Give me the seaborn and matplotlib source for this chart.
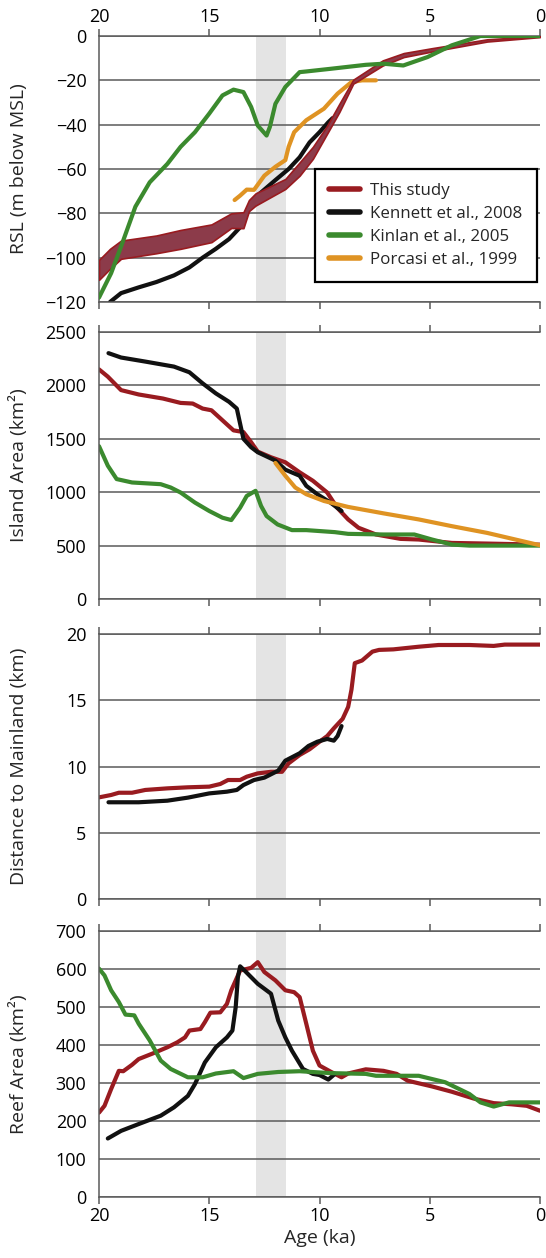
import matplotlib
matplotlib.use('Agg')
import matplotlib.pyplot as plt
from matplotlib.lines import Line2D
import seaborn as sns

# --- DATA ---
# Panel 1: relative sea level (m below MSL)
rsl_this_age = [20.0, 19.5, 19.0, 17.4, 16.3, 14.9, 14.0, 13.45, 13.2, 12.9, 11.55, 10.9,
                10.3, 9.65, 9.1, 8.47, 7.13, 6.18, 4.9, 2.4, 0.0]
rsl_this_upper = [-101, -96, -92.3, -90, -87.5, -85, -80, -79.5, -74, -71, -64.5, -57,
                  -50, -40.4, -30.6, -19.7, -11, -7.7, -5.5, -1.5, 0]
rsl_this_lower = [-110, -105, -100.5, -98, -96, -93, -86.6, -86.7, -79, -76.5, -69, -63,
                  -55.4, -44, -34.3, -21.5, -13.3, -9.5, -7, -2.5, -0.5]

rsl_kennett_age = [19.5, 19.0, 18.2, 17.4, 16.6, 15.9, 15.3, 14.7, 14.1, 13.6, 13.4, 12.9,
                   12.0, 11.4, 10.9, 10.45, 10.0, 9.6, 9.4]
rsl_kennett = [-120, -116, -113.4, -111, -108, -104.4, -100, -96, -91.6, -86.3, -81.8, -72.7,
               -65, -60, -54.7, -48, -43.4, -38.9, -37]

rsl_kinlan_age = [20, 19.45, 19.0, 18.35, 17.7, 16.9, 16.3, 15.65, 15.0, 14.4, 13.9, 13.45,
                  13.1, 12.8, 12.4, 12.25, 12.0, 11.55, 10.9, 10.6, 9.5, 7.9, 7.1, 6.2, 5.1,
                  4.0, 2.7, 0]
rsl_kinlan = [-118, -107, -95, -77, -66, -57.7, -50, -43.4, -35, -26.8, -24.2, -25.3,
              -32, -40.4, -44.9, -41, -30.6, -23, -16.3, -16, -14.8, -13, -12.5, -13.3, -9.5,
              -4.2, 0, 0]

rsl_porcasi_age = [13.85, 13.6, 13.3, 12.97, 12.5, 12.0, 11.55, 11.4, 11.15, 10.6, 9.8, 9.18,
                   8.55, 8.07, 7.44]
rsl_porcasi = [-74, -72, -69.3, -69.4, -63, -59, -56, -50, -43.4, -38, -32.8, -26,
               -20.8, -20, -20]

# Panel 2: island area (km2)
area_this_age = [20, 19.6, 19.0, 18.2, 17.1, 16.3, 15.75, 15.3, 14.9, 14.4, 13.9, 13.45, 13.1,
                 12.8, 12.2, 11.55, 10.9, 10.3, 9.65, 9.2, 8.7, 8.23, 7.44, 6.33, 5.5, 4.0,
                 2.4, 0]
area_this = [2150, 2082, 1956, 1915, 1877, 1836, 1830, 1783, 1767, 1673, 1579, 1563, 1468,
             1380, 1327, 1280, 1186, 1107, 997, 855, 745, 667, 604, 563, 557, 525,
             519, 509]

area_kennett_age = [19.57, 19.0, 17.9, 16.6, 15.9, 15.3, 14.7, 14.1, 13.75, 13.6, 13.45, 13.1,
                    12.8, 12.0, 11.55, 10.9, 10.6, 10.1, 9.5, 9.0]
area_kennett = [2302, 2261, 2223, 2176, 2123, 2019, 1925, 1846, 1783, 1641, 1500, 1421,
                1374, 1296, 1211, 1154, 1060, 981, 902, 824]

area_kinlan_age = [20, 19.6, 19.2, 18.5, 17.2, 16.75, 16.3, 15.65, 15.0, 14.4, 14.0, 13.6,
                   13.3, 12.9, 12.65, 12.4, 11.9, 11.25, 10.6, 9.3, 8.7, 7.1, 5.7, 4.9,
                   4.0, 3.2, 0]
area_kinlan = [1431, 1248, 1123, 1091, 1075, 1044, 997, 903, 824, 761, 739, 855,
               965, 1013, 871, 777, 698, 645, 645, 626, 610, 604, 604, 557,
               510, 500, 500]

area_porcasi_age = [12.0, 11.55, 11.1, 10.6, 9.8, 8.7, 7.1, 5.5, 4.0, 2.4, 0]
area_porcasi = [1274, 1154, 1044, 981, 918, 862, 802, 745, 682, 619, 503]

# Panel 3: distance to mainland (km)
dist_this_age = [20, 19.45, 19.1, 18.5, 17.9, 16.9, 15.97, 15.0, 14.5, 14.15, 13.6, 13.3,
                 12.8, 12.2, 11.7, 11.4, 10.9, 10.45, 10.0, 9.65, 9.35, 8.95, 8.7, 8.55,
                 8.4, 8.07, 7.6, 7.3, 6.65, 5.5, 4.6, 3.2, 2.1, 1.6, 0]
dist_this = [7.67, 7.85, 8.02, 8.02, 8.23, 8.35, 8.43, 8.48, 8.68, 8.98, 8.98, 9.23,
             9.48, 9.6, 9.6, 10.24, 10.87, 11.3, 11.87, 12.3, 12.88, 13.6, 14.5, 15.8,
             17.8, 18.0, 18.67, 18.8, 18.84, 19.04, 19.17, 19.17, 19.1, 19.2, 19.2]

dist_kennett_age = [19.57, 18.2, 16.9, 15.97, 15.0, 14.2, 13.75, 13.45, 12.97, 12.5, 11.87,
                    11.55, 10.9, 10.5, 10.1, 9.65, 9.35, 9.18, 9.0]
dist_kennett = [7.3, 7.3, 7.42, 7.65, 7.97, 8.1, 8.23, 8.6, 8.98, 9.16, 9.69,
                10.44, 11.0, 11.55, 11.87, 12.08, 11.95, 12.3, 13.05]

# Panel 4: reef area (km2)
reef_this_age = [20, 19.75, 19.45, 19.1, 18.9, 18.5, 18.2, 17.55, 16.9, 16.45, 16.1, 15.9,
                 15.4, 15.2, 14.95, 14.5, 14.2, 14.0, 13.6, 13.1, 12.8, 12.5, 12.0, 11.55,
                 11.15, 10.9, 10.6, 10.3, 10.0, 9.5, 9.0, 8.7, 7.9, 7.1, 6.5, 6.0, 4.9,
                 4.0, 3.0, 2.1, 1.3, 0.6, 0]
reef_this = [222, 240, 284, 332, 331, 348, 363, 378, 394, 407, 420, 438,
             442, 460, 485, 486, 508, 544, 596, 603, 618, 592, 570, 544,
             539, 526, 456, 385, 346, 330, 315, 325, 336, 332, 324, 306, 291,
             277, 259, 247, 244, 240, 227]

reef_kennett_age = [19.6, 19.0, 18.2, 17.2, 16.6, 15.97, 15.65, 15.2, 14.7, 14.2, 13.95, 13.8,
                    13.7, 13.6, 13.4, 12.8, 12.2, 11.87, 11.55, 11.25, 10.75, 10.3, 10.0,
                    9.6, 9.3]
reef_kennett = [154, 174, 192, 214, 236, 266, 297, 354, 394, 420, 438, 500,
                579, 607, 596, 561, 535, 464, 420, 385, 337, 324, 321,
                309, 324]

reef_kinlan_age = [20, 19.75, 19.45, 19.1, 18.8, 18.4, 18.2, 17.7, 17.2, 16.75, 15.97, 15.3,
                   14.7, 13.9, 13.45, 12.8, 11.87, 10.9, 9.5, 7.9, 7.44, 5.5, 4.3, 3.2,
                   2.7, 2.1, 1.4, 0]
reef_kinlan = [601, 583, 544, 513, 480, 478, 456, 412, 359, 337, 315, 315,
               325, 331, 313, 324, 329, 331, 326, 324, 319, 319, 302, 271,
               249, 238, 249, 249]

# Younger Dryas shading and series styling
yd_start, yd_end = 12.9, 11.5
series_names = ['This study', 'Kennett et al., 2008', 'Kinlan et al., 2005', 'Porcasi et al., 1999']
RED, BLACK, GREEN, ORANGE = '#991b20', '#111111', '#3b8a2e', '#df9323'
BAND_FILL = '#8c3b4a'
GRID = '#5a5a5a'
LW = 3.0
TICK_FS = 13
LABEL_FS = 14

# --- STYLE ---
sns.set_theme(style='white')
plt.rcParams['font.family'] = ['Open Sans', 'DejaVu Sans']

fig = plt.figure(figsize=(5.46, 12.58), dpi=100)
W, H = 546.0, 1258.0
left, right = 99, 540
panels_px = [(36, 302), (332, 599), (634, 899), (931, 1197)]
axes = []
for top, bottom in panels_px:
    axes.append(fig.add_axes([left / W, 1 - bottom / H, (right - left) / W, (bottom - top) / H]))


def style_axis(ax, ylim, yticks, ylabel):
    ax.set_xlim(20, 0)
    ax.set_ylim(*ylim)
    ax.set_yticks(yticks)
    ax.set_xticks([20, 15, 10, 5, 0])
    ax.axvspan(yd_end, yd_start, color='#e4e4e4', zorder=0, lw=0)
    ax.set_axisbelow(True)
    ax.yaxis.grid(True, color=GRID, lw=1.1)
    ax.xaxis.grid(False)
    for side in ['top', 'bottom', 'left']:
        ax.spines[side].set_color(GRID)
        ax.spines[side].set_linewidth(1.1)
    ax.spines['right'].set_visible(False)
    ax.xaxis.set_ticks_position('both')
    ax.tick_params(axis='x', direction='out', length=5, width=1.1, color=GRID,
                   labelsize=TICK_FS, labelcolor='black', pad=2,
                   labeltop=False, labelbottom=False)
    ax.tick_params(axis='y', direction='out', length=6, width=1.1, color=GRID,
                   labelsize=TICK_FS, labelcolor='black', pad=3)
    ax.set_xlabel('')
    ax.set_ylabel(ylabel, fontsize=LABEL_FS)
    ax.yaxis.set_label_coords(-0.16, 0.5)


# --- PANEL 1: RSL ---
ax = axes[0]
sns.lineplot(x=rsl_kennett_age, y=rsl_kennett, ax=ax, color=BLACK, lw=LW, sort=False, estimator=None)
sns.lineplot(x=rsl_porcasi_age, y=rsl_porcasi, ax=ax, color=ORANGE, lw=LW, sort=False, estimator=None)
ax.fill_between(rsl_this_age, rsl_this_lower, rsl_this_upper, facecolor=BAND_FILL,
                edgecolor=RED, lw=1.2, zorder=3)
sns.lineplot(x=rsl_kinlan_age, y=rsl_kinlan, ax=ax, color=GREEN, lw=LW, sort=False, estimator=None,
             zorder=4)
style_axis(ax, (-120, 0), range(-120, 1, 20), 'RSL (m below MSL)')
ax.tick_params(axis='x', labeltop=True)

handles = [Line2D([0], [0], color=c, lw=4, solid_capstyle='round')
           for c in [RED, BLACK, GREEN, ORANGE]]
leg = ax.legend(handles, series_names, loc='upper left', bbox_to_anchor=(0.49, 0.5),
                borderaxespad=0, frameon=True, fancybox=False, fontsize=12.2,
                handlelength=1.8, handletextpad=0.6, labelspacing=0.4,
                borderpad=0.85)
leg.get_frame().set_edgecolor('black')
leg.get_frame().set_linewidth(1.6)
leg.get_frame().set_alpha(1)

# --- PANEL 2: ISLAND AREA ---
ax = axes[1]
sns.lineplot(x=area_this_age, y=area_this, ax=ax, color=RED, lw=LW, sort=False, estimator=None)
sns.lineplot(x=area_kennett_age, y=area_kennett, ax=ax, color=BLACK, lw=LW, sort=False, estimator=None)
sns.lineplot(x=area_kinlan_age, y=area_kinlan, ax=ax, color=GREEN, lw=LW, sort=False, estimator=None)
sns.lineplot(x=area_porcasi_age, y=area_porcasi, ax=ax, color=ORANGE, lw=LW, sort=False, estimator=None)
style_axis(ax, (0, 2500), range(0, 2501, 500), 'Island Area (km²)')

# --- PANEL 3: DISTANCE TO MAINLAND ---
ax = axes[2]
sns.lineplot(x=dist_this_age, y=dist_this, ax=ax, color=RED, lw=LW, sort=False, estimator=None)
sns.lineplot(x=dist_kennett_age, y=dist_kennett, ax=ax, color=BLACK, lw=LW, sort=False, estimator=None)
style_axis(ax, (0, 20), range(0, 21, 5), 'Distance to Mainland (km)')

# --- PANEL 4: REEF AREA ---
ax = axes[3]
sns.lineplot(x=reef_this_age, y=reef_this, ax=ax, color=RED, lw=LW, sort=False, estimator=None)
sns.lineplot(x=reef_kennett_age, y=reef_kennett, ax=ax, color=BLACK, lw=LW, sort=False, estimator=None)
sns.lineplot(x=reef_kinlan_age, y=reef_kinlan, ax=ax, color=GREEN, lw=LW, sort=False, estimator=None)
style_axis(ax, (0, 700), range(0, 701, 100), 'Reef Area (km²)')
ax.tick_params(axis='x', labelbottom=True)
ax.set_xlabel('Age (ka)', fontsize=LABEL_FS, labelpad=3)

fig.savefig('out.png', dpi=100)
